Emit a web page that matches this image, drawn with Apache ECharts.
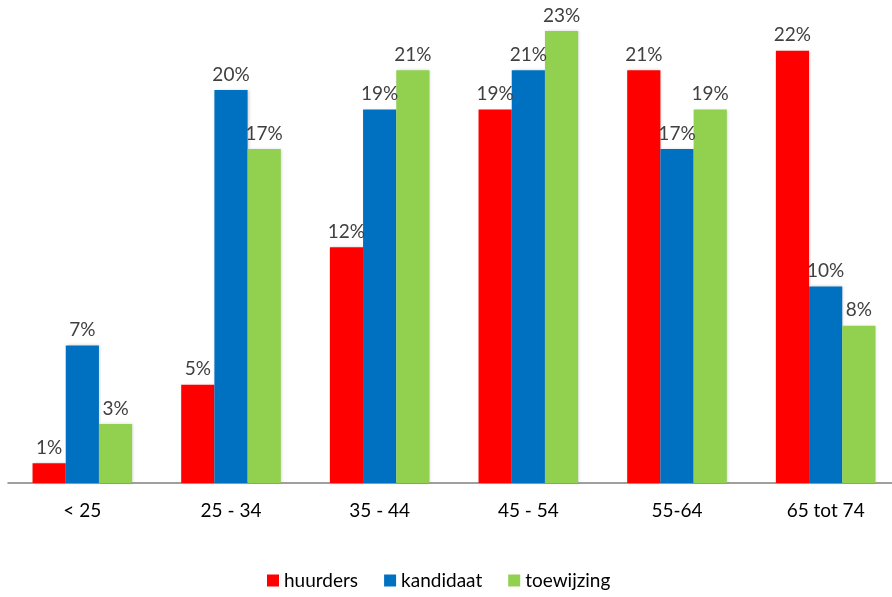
<!DOCTYPE html>
<html>
<head>
<meta charset="utf-8">
<script src="https://cdn.jsdelivr.net/npm/echarts@6/dist/echarts.min.js"></script>
<style>
  html, body { margin: 0; padding: 0; background: #fff; overflow: hidden; }
  /* the plot runs slightly past the right edge of the page */
  #chart { width: 900px; height: 597px; }
</style>
</head>
<body>
<div id="chart"></div>
<script>
// Age groups and share (%) per group
const categories = ['< 25', '25 - 34', '35 - 44', '45 - 54', '55-64', '65 tot 74'];
const huurders   = [1, 5, 12, 19, 21, 22];
const kandidaat  = [7, 20, 19, 21, 17, 10];
const toewijzing = [3, 17, 21, 23, 19, 8];

const font = 'Lato, "Open Sans", sans-serif';

function barSeries(name, data, color) {
  return {
    name: name,
    type: 'bar',
    data: data,
    barGap: '0%',
    barCategoryGap: '33%',
    itemStyle: {
      color: color,
      shadowColor: 'rgba(0,0,0,0.18)',
      shadowBlur: 3,
      shadowOffsetX: 1,
      shadowOffsetY: 0
    },
    label: {
      show: true,
      position: 'top',
      distance: 6,
      formatter: '{c}%',
      color: '#404040',
      fontSize: 19,
      fontFamily: font
    }
  };
}

const chart = echarts.init(document.getElementById('chart'));
chart.setOption({
  animation: false,
  grid: { left: 8, right: 0, top: 31, bottom: 114, containLabel: false },
  legend: {
    bottom: 2,
    left: 262,
    itemWidth: 12,
    itemHeight: 12,
    itemGap: 26,
    icon: 'rect',
    textStyle: { fontSize: 19, color: '#000', fontFamily: font }
  },
  xAxis: {
    type: 'category',
    data: categories,
    axisLine: { lineStyle: { color: '#808080', width: 1.5 } },
    axisTick: { show: false },
    axisLabel: { fontSize: 19, color: '#000', margin: 18, fontFamily: font }
  },
  yAxis: {
    type: 'value',
    min: 0,
    max: 23,
    show: false,
    splitLine: { show: false }
  },
  series: [
    barSeries('huurders', huurders, '#FF0000'),
    barSeries('kandidaat', kandidaat, '#0070C0'),
    barSeries('toewijzing', toewijzing, '#92D050')
  ]
});
</script>
</body>
</html>
